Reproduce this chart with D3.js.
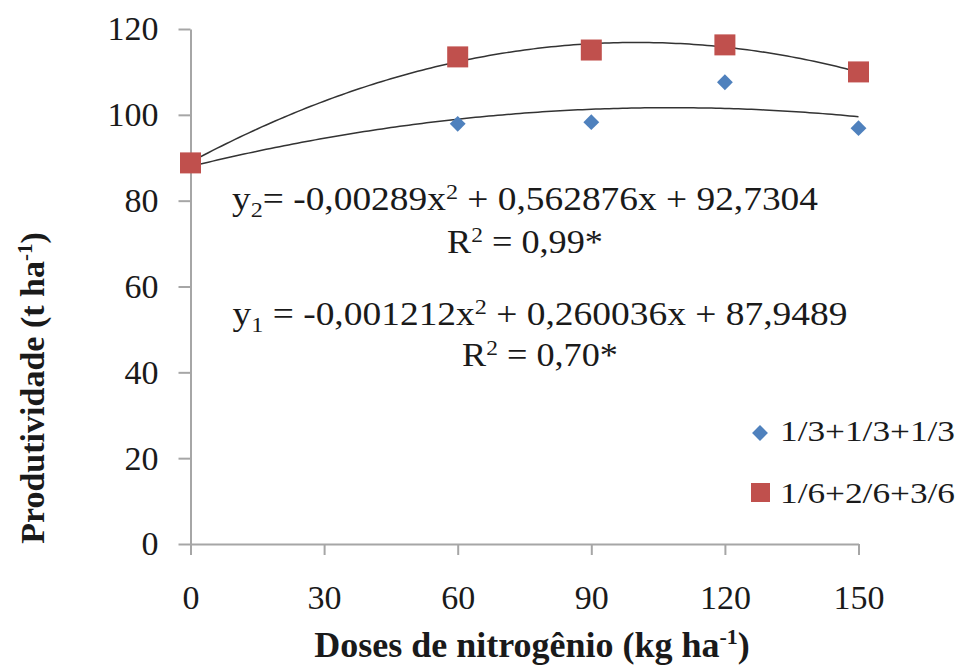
<!DOCTYPE html>
<html><head><meta charset="utf-8">
<script src="https://cdn.jsdelivr.net/npm/d3@7"></script>
<style>
html,body{margin:0;padding:0;background:#fff;}
svg text{font-family:"Liberation Serif","Times New Roman",serif;fill:#1a1a1a;}
</style></head>
<body><svg id="chart" width="965" height="666"></svg>
<script>
const doses = [0, 60, 90, 120, 150];
const seriesNames = ["1/3+1/3+1/3", "1/6+2/6+3/6"];
const prodS1 = [88.6, 97.9, 98.3, 107.6, 96.9];
const prodS2 = [88.8, 113.5, 115.1, 116.3, 110.0];
const xTicks = [0, 30, 60, 90, 120, 150];
const yTicks = [0, 20, 40, 60, 80, 100, 120];

const svg = d3.select("#chart");
const x = d3.scaleLinear().domain([0, 150]).range([190.5, 858.5]);
const y = d3.scaleLinear().domain([0, 120]).range([544, 29]);
const axisColor = "#a6a6a6";

// least squares quadratic fit (trendline)
function quadFit(xs, ys) {
  let S = [0,0,0,0,0], T = [0,0,0];
  xs.forEach((xi, i) => {
    for (let k = 0; k < 5; k++) S[k] += Math.pow(xi, k);
    for (let k = 0; k < 3; k++) T[k] += ys[i] * Math.pow(xi, k);
  });
  const M = [[S[0],S[1],S[2],T[0]],[S[1],S[2],S[3],T[1]],[S[2],S[3],S[4],T[2]]];
  for (let i = 0; i < 3; i++) {
    for (let j = i+1; j < 3; j++) {
      const f = M[j][i]/M[i][i];
      for (let k = i; k < 4; k++) M[j][k] -= f*M[i][k];
    }
  }
  const c = [0,0,0];
  for (let i = 2; i >= 0; i--) {
    let s = M[i][3];
    for (let k = i+1; k < 3; k++) s -= M[i][k]*c[k];
    c[i] = s/M[i][i];
  }
  return xv => c[0] + c[1]*xv + c[2]*xv*xv;
}

// axes
const yAxis = svg.append("g").attr("transform", `translate(${x(0)},0)`)
  .call(d3.axisLeft(y).tickValues(yTicks).tickSize(12).tickPadding(20).tickSizeOuter(0));
const xAxis = svg.append("g").attr("transform", `translate(0,${y(0)})`)
  .call(d3.axisBottom(x).tickValues(xTicks).tickSize(11).tickPadding(30).tickSizeOuter(0));
[yAxis, xAxis].forEach(g => {
  g.select(".domain").attr("stroke", axisColor).attr("stroke-width", 2);
  g.selectAll(".tick line").attr("stroke", axisColor).attr("stroke-width", 2);
  g.selectAll(".tick text").attr("font-size", 34).attr("fill", "#1a1a1a")
    .style("font-family", '"Liberation Serif",serif');
});
xAxis.select(".tick line").attr("y1", 0);

// trend lines
const xs = d3.range(0, 150.01, 1);
[prodS1, prodS2].forEach(vals => {
  const f = quadFit(doses, vals);
  svg.append("path").datum(xs)
    .attr("d", d3.line().x(d => x(d)).y(d => y(f(d))))
    .attr("fill", "none").attr("stroke", "#333").attr("stroke-width", 1.5);
});

// points
const diamond = d3.symbol().type(d3.symbolDiamond2).size(160);
svg.append("g").selectAll("path").data(doses).join("path")
  .attr("d", diamond)
  .attr("transform", (d, i) => `translate(${x(d)},${y(prodS1[i])})`)
  .attr("fill", "#4f81bd");
svg.append("g").selectAll("rect").data(doses).join("rect")
  .attr("x", d => x(d) - 10.5).attr("y", (d, i) => y(prodS2[i]) - 10.5)
  .attr("width", 21).attr("height", 21).attr("fill", "#c0504d");

// equations
const eq = svg.append("g").attr("font-size", 34).attr("text-anchor", "middle");
function eqText(cx, by, parts, len) {
  const t = eq.append("text").attr("x", cx).attr("y", by);
  if (len) t.attr("textLength", len).attr("lengthAdjust", "spacingAndGlyphs");
  parts.forEach(p => {
    const s = t.append("tspan").text(p[0]);
    if (p[1] === "sub") s.attr("font-size", 22).attr("dy", 7);
    if (p[1] === "sup") s.attr("font-size", 22).attr("dy", -11);
    if (p[1] === "back") s.attr("dy", p[2]);
  });
}
eqText(525, 210, [["y"],["2","sub"],["= -0,00289x","back",-7],["2","sup"],[" + 0,562876x + 92,7304","back",11]], 586);
eqText(525, 253, [["R"],["2","sup"],[" = 0,99*","back",11]], 156);
eqText(540, 325, [["y"],["1","sub"],[" = -0,001212x","back",-7],["2","sup"],[" + 0,260036x + 87,9489","back",11]], 615);
eqText(540, 366, [["R"],["2","sup"],[" = 0,70*","back",11]], 156);

// axis titles
svg.append("text").attr("x", 532).attr("y", 657).attr("text-anchor", "middle")
  .attr("font-size", 36).attr("font-weight", "bold")
  .call(t => {
    t.append("tspan").text("Doses de nitrogênio (kg ha");
    t.append("tspan").text("-1").attr("font-size", 22).attr("dy", -13);
    t.append("tspan").text(")").attr("dy", 13);
  });
svg.append("text").attr("transform", "translate(44,388) rotate(-90)").attr("text-anchor", "middle")
  .attr("font-size", 34).attr("font-weight", "bold")
  .call(t => {
    t.append("tspan").text("Produtividade (t ha");
    t.append("tspan").text("-1").attr("font-size", 21).attr("dy", -12);
    t.append("tspan").text(")").attr("dy", 12);
  });

// legend
const leg = svg.append("g");
leg.append("path").attr("d", diamond).attr("transform", "translate(760,433)").attr("fill", "#4f81bd");
leg.append("rect").attr("x", 751).attr("y", 483).attr("width", 19).attr("height", 19).attr("fill", "#c0504d");
leg.append("text").attr("x", 780).attr("y", 441).attr("font-size", 30)
  .attr("textLength", 175).attr("lengthAdjust", "spacingAndGlyphs").text(seriesNames[0]);
leg.append("text").attr("x", 780).attr("y", 503).attr("font-size", 30)
  .attr("textLength", 175).attr("lengthAdjust", "spacingAndGlyphs").text(seriesNames[1]);
</script></body></html>
